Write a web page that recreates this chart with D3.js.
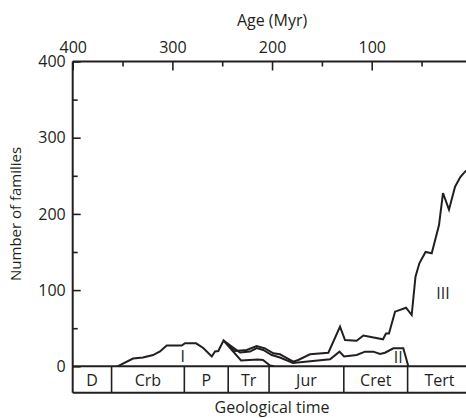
<!DOCTYPE html>
<html><head><meta charset="utf-8">
<script src="https://cdn.jsdelivr.net/npm/d3@7"></script>
<style>
body{margin:0;background:#fff}
text{font-family:"Open Sans",sans-serif;fill:#231f20}
</style>
</head><body>
<svg id="c" width="466" height="418"></svg>
<script>
// Geological periods and their boundaries (Myr)
const periods = ["D","Crb","P","Tr","Jur","Cret","Tert"];
const periodBounds = [400,361,288,244,203,128,64,0];
// Axis ticks (visible ones)
const ageTicks = [400,300,200,100];
const ageMinorTicks = [350,250,150,50];
const familyTicks = [0,100,200,300,400];
const familyMinorTicks = [50,150,250,350];
// Curve I (fauna I)
const curveIAges   = [355,339.5,329.5,319.4,312.4,305.7,290.6,287.3,276.3,269,260.5,257.2,253.9,248.7,231.1,214.1,209.1,202,198];
const curveIValues = [0,10.2,11.5,14.8,19.4,27.3,27.3,30.2,30.2,24,12.9,19.4,20.1,33.9,7.6,8.9,8.3,1,0];
// Curve II (upper boundary of fauna I + II)
const curveIIAges   = [248.7,232.2,222.1,215.4,208.8,200.3,192,179,141.8,132.3,127.8,115.1,106.7,98.4,91.7,86.7,78.3,68.3,63.3];
const curveIIValues = [33.9,18.1,19.4,24,21.4,14.8,11.5,4.3,9.2,19.2,12.9,14.8,19.2,19.2,16.1,17.8,23.6,23.6,0];
// Curve III (total: fauna I + II + III)
const curveIIIAges   = [248.7,237.2,225.4,215.4,207.1,198.7,192,188.7,178.7,173.7,161.9,143.5,131.8,126.8,115.1,108.4,88.7,85.7,82.7,76.6,65.6,59.9,56.1,52.2,46,39.8,32.5,28.5,22.5,16.4,11.1,6.4,0];
const curveIIIValues = [33.9,20.1,21.4,26.6,23.6,17.1,15.7,13.5,6,8.3,15.7,17.8,52,34.5,33.6,40.4,35.4,43,43,71.7,76.9,67.3,117.6,135.2,150,148.3,185.4,227.4,205.5,235.7,248.4,255.4,261];
// Curve labels
const curveLabels = ["I","II","III"];
const curveLabelAges = [289.5,73.5,28.5];
const curveLabelValues = [6,4,88];

const ink = "#231f20";
const svg = d3.select("#c");
const x = d3.scaleLinear().domain([400,0]).range([72.7,471.4]);
const y = d3.scaleLinear().domain([0,400]).range([366.3,61.5]);
const barBottom = 392.7;
const fs = 16;

// Top axis (Age)
const topAxis = svg.append("g").attr("transform",`translate(0,${y(400)})`)
  .call(d3.axisTop(x).tickValues(ageTicks).tickSize(-9).tickSizeOuter(0).tickPadding(9));
topAxis.select(".domain").remove();
topAxis.selectAll("line").attr("stroke",ink).attr("stroke-width",1.6);
topAxis.selectAll("text").attr("font-size",fs).attr("font-family","Open Sans").attr("fill",ink);
const topMinor = svg.append("g").attr("transform",`translate(0,${y(400)})`)
  .call(d3.axisTop(x).tickValues(ageMinorTicks).tickSize(-5).tickSizeOuter(0).tickFormat(""));
topMinor.select(".domain").remove();
topMinor.selectAll("line").attr("stroke",ink).attr("stroke-width",1.6);

// Left axis (families)
const leftAxis = svg.append("g").attr("transform",`translate(${x(400)},0)`)
  .call(d3.axisLeft(y).tickValues(familyTicks).tickSize(-8).tickSizeOuter(0).tickPadding(7));
leftAxis.select(".domain").remove();
leftAxis.selectAll("line").attr("stroke",ink).attr("stroke-width",1.6);
leftAxis.selectAll("text").attr("font-size",fs).attr("font-family","Open Sans").attr("fill",ink);
const leftMinor = svg.append("g").attr("transform",`translate(${x(400)},0)`)
  .call(d3.axisLeft(y).tickValues(familyMinorTicks).tickSize(-5).tickSizeOuter(0).tickFormat(""));
leftMinor.select(".domain").remove();
leftMinor.selectAll("line").attr("stroke",ink).attr("stroke-width",1.6);

// Frame lines
const frame = svg.append("g").attr("stroke",ink).attr("stroke-width",2).attr("fill","none");
frame.append("line").attr("x1",x(400)).attr("x2",x(0)).attr("y1",y(400)).attr("y2",y(400));
frame.append("line").attr("x1",x(400)).attr("x2",x(400)).attr("y1",y(400)).attr("y2",barBottom);
frame.append("line").attr("x1",x(400)).attr("x2",x(0)).attr("y1",y(0)).attr("y2",y(0));
frame.append("line").attr("x1",x(400)).attr("x2",x(0)).attr("y1",barBottom).attr("y2",barBottom);
// Period dividers
frame.selectAll(".div").data(periodBounds.slice(1,-1)).enter().append("line")
  .attr("x1",d=>x(d)).attr("x2",d=>x(d)).attr("y1",y(0)).attr("y2",barBottom).attr("stroke-width",1.6);
// Period labels
svg.selectAll(".plab").data(periods).enter().append("text")
  .attr("x",(d,i)=>(x(periodBounds[i])+x(periodBounds[i+1]))/2)
  .attr("y",386).attr("text-anchor","middle").attr("font-size",fs).text(d=>d);

// Curves
const line = d3.line().x(d=>x(d[0])).y(d=>y(d[1]));
const curves = [
  d3.zip(curveIAges,curveIValues),
  d3.zip(curveIIAges,curveIIValues),
  d3.zip(curveIIIAges,curveIIIValues)
];
svg.append("defs").append("clipPath").attr("id","clip").append("rect")
  .attr("x",x(400)).attr("y",y(400)).attr("width",x(0)-x(400)).attr("height",y(0)-y(400)+1);
svg.append("g").attr("clip-path","url(#clip)").selectAll("path").data(curves).enter().append("path")
  .attr("d",line).attr("fill","none").attr("stroke",ink).attr("stroke-width",2).attr("stroke-linejoin","miter");

// Curve labels
svg.selectAll(".clab").data(curveLabels).enter().append("text")
  .attr("x",(d,i)=>x(curveLabelAges[i])).attr("y",(d,i)=>y(curveLabelValues[i]))
  .attr("text-anchor","middle").attr("font-size",fs).text(d=>d);

// Axis titles
svg.append("text").attr("x",(x(400)+x(0))/2).attr("y",26).attr("text-anchor","middle").attr("font-size",fs).text("Age (Myr)");
svg.append("text").attr("x",(x(400)+x(0))/2).attr("y",413).attr("text-anchor","middle").attr("font-size",fs).text("Geological time");
svg.append("text").attr("transform",`translate(20.7,${(y(0)+y(400))/2}) rotate(-90)`)
  .attr("text-anchor","middle").attr("font-size",15).text("Number of families");
</script>
</body></html>
